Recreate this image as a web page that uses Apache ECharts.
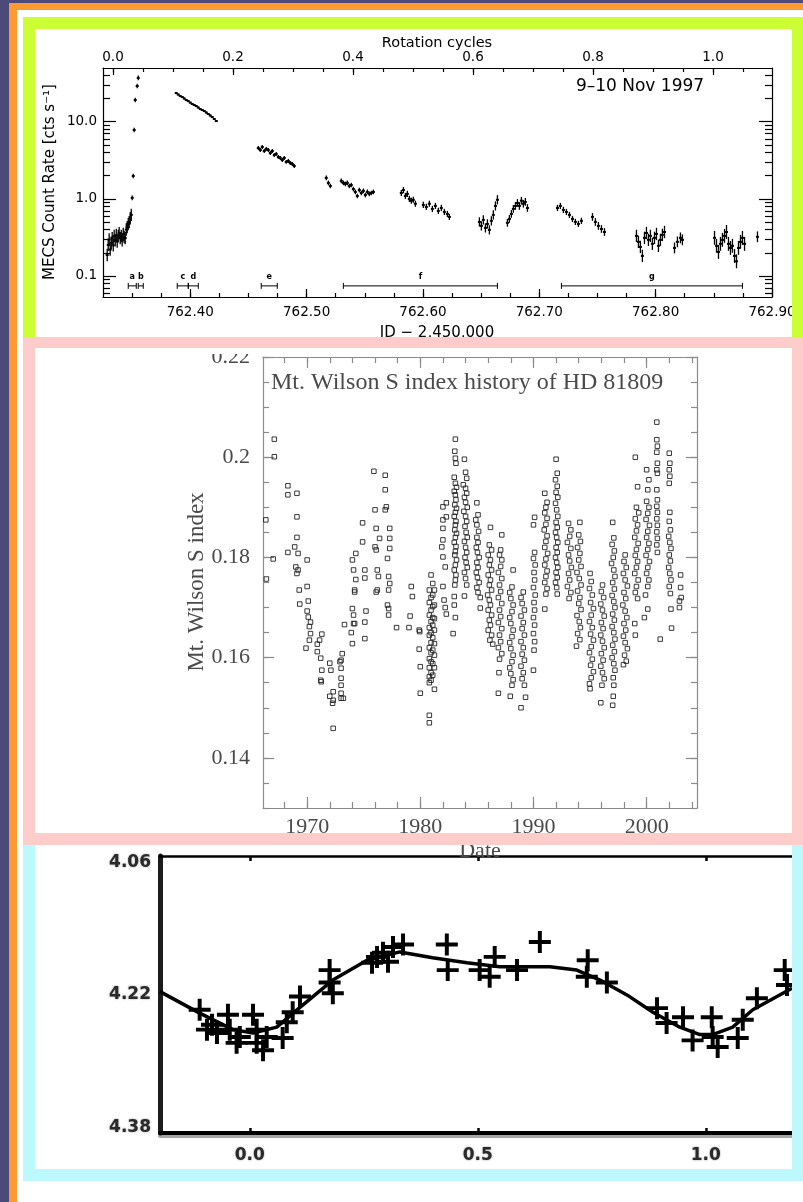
<!DOCTYPE html>
<html><head><meta charset="utf-8">
<script src="https://cdn.jsdelivr.net/npm/echarts@6/dist/echarts.min.js"></script>
<style>html,body{margin:0;padding:0;background:#fff}#c{width:803px;height:1202px}</style>
</head><body><div id="c"></div>
<script>
// ================= Panel 1 : MECS light curve (9-10 Nov 1997) =================
const jdTicks = [762.40, 762.50, 762.60, 762.70, 762.80, 762.90];
const cycleTicks = [0.0, 0.2, 0.4, 0.6, 0.8, 1.0];
const rateTicks = [0.1, 1.0, 10.0];
// [JD-2450000, count rate]
const seg01 = [[762.3286,0.187],[762.3295,0.253],[762.3303,0.297],[762.3312,0.22],[762.3321,0.27],[762.3329,0.31],[762.3338,0.25],[762.3346,0.33],[762.3355,0.29],[762.3364,0.34],[762.3372,0.28],[762.3381,0.33],[762.3389,0.36],[762.3398,0.31],[762.3407,0.33],[762.3415,0.29],[762.3424,0.35],[762.3432,0.32],[762.3441,0.31],[762.3450,0.40],[762.3458,0.43],[762.3467,0.47],[762.3475,0.50],[762.3484,0.56],[762.3493,0.62]];
const seg02 = [[762.3501,1.03],[762.3510,1.98],[762.3518,7.8],[762.3527,19.1],[762.3544,29],[762.3553,37]];
const seg03 = [[762.38796,23.5],[762.38968,22.5],[762.3914,21.5],[762.39312,20.9],[762.39484,20.0],[762.39656,19.1],[762.39828,18.5],[762.4,17.7],[762.40172,16.96],[762.40344,16.45],[762.40516,15.97],[762.40688,15.27],[762.4086,14.6],[762.41032,14.18],[762.41204,13.76],[762.41376,13.16],[762.41548,12.58],[762.4172,12.03],[762.41892,11.5],[762.42064,10.84],[762.42236,10.2]];
const seg04 = [[762.4585,4.56],[762.4602,4.30],[762.4619,4.70],[762.4636,4.17],[762.4653,4.43],[762.4671,4.30],[762.4688,3.93],[762.4705,4.17],[762.4722,3.70],[762.4739,3.82],[762.4757,3.49],[762.4774,3.39],[762.4791,3.19],[762.4808,3.39],[762.4825,3.01],[762.4843,3.10],[762.4860,2.92],[762.4877,2.83],[762.4894,2.67]];
const seg05 = [[762.5169,1.87],[762.5187,1.61],[762.5204,1.47]];
const seg06 = [[762.5298,1.71],[762.5316,1.61],[762.5333,1.56],[762.5350,1.61],[762.5367,1.47],[762.5384,1.51],[762.5402,1.34],[762.5419,1.23],[762.5436,1.09],[762.5453,1.30],[762.5470,1.19],[762.5488,1.27],[762.5505,1.12],[762.5522,1.23],[762.5539,1.16],[762.5556,1.19],[762.5574,1.23]];
const seg07 = [[762.5814,1.19],[762.5832,1.30],[762.5849,1.09],[762.5866,1.16],[762.5883,1.00],[762.5900,0.945],[762.5917,0.973],[762.5935,0.864]];
const seg08 = [[762.6003,0.834],[762.6029,0.785],[762.6055,0.864],[762.6081,0.740],[762.6107,0.809],[762.6132,0.697],[762.6158,0.762],[762.6184,0.676],[762.6210,0.637],[762.6227,0.583]];
const seg09 = [[762.6485,0.502],[762.6502,0.446],[762.6519,0.533],[762.6537,0.420],[762.6554,0.473],[762.6571,0.396],[762.6588,0.518],[762.6605,0.619],[762.6623,0.809],[762.6640,0.973]];
const seg10 = [[762.6726,0.488],[762.6743,0.549],[762.6760,0.637],[762.6777,0.740],[762.6795,0.809],[762.6812,0.885],[762.6829,0.809],[762.6846,0.945],[762.6863,0.864],[762.6880,0.911],[762.6898,0.762]];
const seg11 = [[762.7156,0.762],[762.7181,0.809],[762.7207,0.718],[762.7233,0.676],[762.7259,0.619],[762.7285,0.549],[762.7310,0.502],[762.7336,0.473],[762.7362,0.518]];
const seg12 = [[762.7457,0.583],[762.7482,0.502],[762.7508,0.446],[762.7534,0.407],[762.7560,0.372]];
const seg13 = [[762.7835,0.331],[762.7852,0.277],[762.7869,0.238],[762.7886,0.182],[762.7904,0.312],[762.7921,0.361],[762.7938,0.294],[762.7955,0.331],[762.7972,0.261],[762.7990,0.312],[762.8007,0.351],[762.8024,0.246],[762.8041,0.294],[762.8058,0.341],[762.8076,0.372]];
const seg14 = [[762.8162,0.231],[762.8187,0.277],[762.8213,0.312],[762.8230,0.294]];
const seg15 = [[762.8506,0.312],[762.8523,0.246],[762.8540,0.205],[762.8557,0.261],[762.8574,0.294],[762.8592,0.331],[762.8609,0.372],[762.8626,0.261],[762.8643,0.231],[762.8660,0.246],[762.8678,0.182],[762.8695,0.155],[762.8712,0.231],[762.8729,0.277],[762.8746,0.312],[762.8764,0.261]];
const seg16 = [[762.8875,0.322]];
const segments = [seg01,seg02,seg03,seg04,seg05,seg06,seg07,seg08,seg09,seg10,seg11,seg12,seg13,seg14,seg15,seg16];
// error bar half-length per segment, in dex
const segErr = [0.08,0.03,0.012,0.025,0.03,0.03,0.04,0.04,0.06,0.05,0.04,0.05,0.08,0.07,0.09,0.07];
const intervalNames = ['a','b','c','d','e','f','g'];
const intervalStart = [762.3467,762.3553,762.3888,762.3983,762.4610,762.5316,762.7190];
const intervalEnd   = [762.3536,762.3596,762.3983,762.4069,762.4748,762.6640,762.8746];

// ================= Panel 2 : Mt. Wilson S index history =================
const yearTicks = [1970, 1980, 1990, 2000];
const sTicks = [0.14, 0.16, 0.18, 0.2, 0.22];
const obs1966_1979 = [[1966.35,0.1875],[1966.4,0.1757],[1967.1,0.2036],[1967.1,0.2001],[1967.0,0.1797],
[1968.3,0.1943],[1968.3,0.1925],[1968.3,0.181],[1968.9,0.1821],
[1969.1,0.1928],[1969.1,0.1881],[1969.1,0.184],[1969.2,0.1808],[1969.0,0.1781],[1969.2,0.1775],[1969.1,0.1768],[1969.3,0.1735],[1969.35,0.1707],
[1970.0,0.1795],[1970.0,0.1742],[1970.1,0.1713],[1970.0,0.1693],[1970.1,0.1681],[1970.3,0.1671],[1970.2,0.1662],[1970.3,0.1648],[1969.9,0.1619],[1970.2,0.1635],
[1970.9,0.1627],[1971.1,0.1635],[1971.3,0.1647],[1970.9,0.1612],[1971.2,0.1599],[1971.3,0.1575],[1971.2,0.1555],[1971.25,0.1552],
[1972.0,0.1589],[1972.1,0.1575],[1972.0,0.1523],[1972.3,0.1532],[1972.3,0.1515],[1972.25,0.1509],[1972.3,0.1459],
[1972.9,0.1592],[1973.1,0.1608],[1973.0,0.1595],[1973.0,0.1579],[1973.0,0.1559],[1973.0,0.1545],[1973.0,0.1529],[1973.0,0.1519],[1973.2,0.1519],[1973.3,0.1666],
[1973.9,0.165],[1974.0,0.1628],[1974.1,0.1668],[1974.2,0.1668],[1974.1,0.1685],[1974.0,0.1698],[1974.2,0.1731],[1974.0,0.1795],[1974.3,0.1808],[1974.1,0.1775],[1974.3,0.1756],[1974.2,0.1735],
[1974.9,0.1869],[1974.9,0.1831],[1975.1,0.1775],[1975.1,0.1759],[1975.1,0.1671],[1975.1,0.1638],[1975.2,0.1693],
[1975.9,0.1972],[1976.0,0.1895],[1976.1,0.1858],[1976.4,0.1838],[1976.0,0.1821],[1976.1,0.1815],[1976.2,0.1775],[1976.3,0.1762],[1976.2,0.1735],[1976.1,0.1731],
[1976.9,0.1964],[1976.9,0.1935],[1977.0,0.1901],[1976.9,0.1895],[1977.3,0.1858],[1977.3,0.1838],[1977.3,0.1818],[1977.1,0.1798],[1977.2,0.1762],[1977.3,0.1748],[1977.2,0.1735],[1977.1,0.1705],[1977.2,0.1685],[1977.2,0.1698],
[1977.9,0.166],[1979.0,0.166],[1979.1,0.1683],[1979.3,0.1722],[1979.2,0.1742]];
const obs1980_1989 = [[1979.9,0.1655],[1979.9,0.1617],[1980.0,0.1582],[1980.0,0.1529],[1979.95,0.1652],
[1980.8,0.1735],[1980.8,0.171],[1980.8,0.1685],[1980.8,0.166],[1980.8,0.1645],[1980.8,0.162],[1980.8,0.1598],[1980.8,0.158],[1980.8,0.1562],[1980.8,0.155],[1980.8,0.1485],[1980.8,0.147],
[1980.95,0.1765],[1980.95,0.172],[1980.95,0.1695],[1980.95,0.1672],[1980.95,0.165],[1980.95,0.163],[1980.95,0.161],[1980.95,0.1592],[1980.95,0.157],[1980.95,0.1555],
[1981.1,0.1748],[1981.1,0.1725],[1981.1,0.1702],[1981.1,0.168],[1981.1,0.1665],[1981.1,0.164],[1981.1,0.1615],[1981.1,0.1588],[1981.1,0.1565],
[1981.25,0.1735],[1981.25,0.1705],[1981.25,0.1678],[1981.25,0.1655],[1981.25,0.1628],[1981.25,0.1605],[1981.25,0.158],[1981.25,0.1537],
[1982.0,0.1742],[1982.0,0.1901],[1982.3,0.1909],[1982.0,0.1875],[1982.3,0.1881],[1982.0,0.1858],[1982.0,0.1835],[1981.9,0.1821],[1982.0,0.1801],[1982.2,0.1781],[1982.3,0.1687],[1982.2,0.1700],[1982.1,0.1715],
[1983.1,0.2036],[1983.05,0.2012],[1983.1,0.1998],[1983.15,0.1988],[1983.0,0.196],[1983.1,0.1948],[1983.2,0.194],[1983.0,0.1932],[1983.1,0.1925],[1983.15,0.1915],[1983.05,0.1905],[1983.2,0.1898],[1983.1,0.189],[1983.0,0.1882],[1983.15,0.1872],[1983.1,0.1865],[1983.05,0.1855],[1983.2,0.1848],[1983.1,0.184],[1983.0,0.183],[1983.15,0.1822],[1983.1,0.1812],[1983.05,0.1805],[1983.2,0.1795],[1983.1,0.1785],[1983.0,0.1775],[1983.15,0.1765],[1983.1,0.1755],[1983.05,0.1745],[1983.0,0.1722],[1983.0,0.1705],[1983.1,0.168],[1982.9,0.1648],
[1983.9,0.1996],[1984.0,0.197],[1984.1,0.1958],[1983.8,0.1945],[1984.0,0.1938],[1984.1,0.1928],[1983.9,0.192],[1984.0,0.191],[1984.15,0.19],[1983.85,0.1892],[1984.0,0.1882],[1984.1,0.1872],[1983.95,0.1862],[1984.05,0.185],[1984.15,0.184],[1983.9,0.1832],[1984.0,0.182],[1984.1,0.181],[1983.95,0.18],[1984.05,0.179],[1984.15,0.178],[1983.9,0.177],[1984.0,0.1758],[1984.1,0.1745],[1983.9,0.1723],
[1985.0,0.1909],[1985.1,0.1885],[1984.9,0.1875],[1985.0,0.1865],[1985.15,0.1852],[1985.0,0.184],[1985.1,0.183],[1984.95,0.182],[1985.05,0.181],[1985.2,0.18],[1985.0,0.179],[1985.1,0.178],[1984.95,0.177],[1985.05,0.176],[1985.2,0.175],[1985.0,0.174],[1985.1,0.173],[1985.3,0.172],[1985.3,0.1699],
[1986.2,0.186],[1986.1,0.1825],[1986.3,0.1815],[1986.0,0.1805],[1986.2,0.1795],[1986.1,0.1785],[1986.3,0.1775],[1986.0,0.1765],[1986.2,0.1755],[1986.1,0.1745],[1986.3,0.1735],[1985.95,0.1725],[1986.1,0.1715],[1986.2,0.1705],[1986.0,0.1695],[1986.3,0.1685],[1986.1,0.1675],[1986.2,0.1665],[1986.0,0.1655],[1986.3,0.1645],[1986.15,0.1635],[1986.4,0.1627],
[1987.2,0.1845],[1987.1,0.1815],[1987.0,0.1805],[1987.2,0.1795],[1987.1,0.1782],[1986.9,0.177],[1987.2,0.1758],[1987.0,0.1745],[1987.1,0.1732],[1986.9,0.172],[1987.2,0.1708],[1987.0,0.1695],[1987.1,0.1682],[1986.9,0.167],[1987.2,0.1658],[1987.0,0.1645],[1987.1,0.1632],[1986.9,0.162],[1987.2,0.1608],[1987.0,0.1597],[1986.95,0.157],[1986.9,0.1529],
[1988.2,0.1775],[1988.1,0.1741],[1987.9,0.173],[1988.0,0.1718],[1988.2,0.1705],[1988.1,0.1692],[1987.9,0.168],[1988.0,0.1668],[1988.2,0.1655],[1988.1,0.1642],[1987.9,0.163],[1988.0,0.1618],[1988.2,0.1605],[1988.1,0.1592],[1987.9,0.158],[1988.0,0.1568],[1988.2,0.1556],[1988.1,0.1545],[1987.95,0.1523],
[1989.1,0.1731],[1988.9,0.172],[1989.0,0.1708],[1989.2,0.1695],[1988.9,0.1683],[1989.1,0.167],[1989.0,0.1658],[1989.2,0.1645],[1988.9,0.1632],[1989.1,0.162],[1989.0,0.1607],[1989.2,0.1595],[1988.9,0.1583],[1989.1,0.157],[1989.0,0.1558],[1989.2,0.1545],[1989.3,0.1521],[1988.9,0.150]];
const obs1990_2003 = [[1990.1,0.188],[1990.0,0.1865],[1990.1,0.181],[1990.0,0.1798],[1990.15,0.1785],[1990.05,0.177],[1990.1,0.1755],[1990.0,0.174],[1990.15,0.1725],[1990.05,0.171],[1990.1,0.1695],[1990.0,0.168],[1990.1,0.1665],[1990.0,0.1648],[1990.1,0.1632],[1990.05,0.1615],[1990.0,0.1575],
[1991.0,0.1928],[1991.2,0.191],[1991.1,0.19],[1991.0,0.1889],[1991.2,0.1878],[1991.1,0.1866],[1990.95,0.1855],[1991.2,0.1843],[1991.1,0.1832],[1991.0,0.182],[1991.25,0.1808],[1991.1,0.1797],[1991.0,0.1785],[1991.2,0.1773],[1991.1,0.1762],[1991.0,0.175],[1991.2,0.1738],[1991.1,0.1727],[1991.0,0.1697],
[1992.0,0.1996],[1992.1,0.1968],[1991.95,0.1955],[1992.1,0.1942],[1992.0,0.193],[1992.15,0.192],[1991.95,0.1908],[1992.05,0.1895],[1992.15,0.1882],[1992.0,0.187],[1992.1,0.186],[1991.95,0.185],[1992.05,0.184],[1992.15,0.183],[1992.0,0.182],[1992.1,0.181],[1991.95,0.18],[1992.05,0.179],[1992.15,0.178],[1992.0,0.177],[1992.1,0.176],[1991.95,0.175],[1992.05,0.174],[1992.1,0.1727],
[1993.1,0.1868],[1993.3,0.1855],[1993.2,0.1842],[1993.0,0.183],[1993.3,0.1818],[1993.1,0.1805],[1993.2,0.1793],[1993.35,0.178],[1993.1,0.1768],[1993.2,0.1755],[1993.0,0.1742],[1993.3,0.173],[1993.15,0.1718],
[1994.1,0.187],[1994.0,0.1845],[1994.15,0.1832],[1993.9,0.182],[1994.1,0.1808],[1994.0,0.1795],[1994.2,0.1782],[1993.85,0.177],[1994.05,0.1758],[1994.2,0.1745],[1993.9,0.1733],[1994.1,0.172],[1994.0,0.1708],[1994.2,0.1696],[1993.85,0.1684],[1994.05,0.1672],[1994.15,0.166],[1993.9,0.1648],[1994.1,0.1636],[1993.8,0.1623],
[1995.0,0.1768],[1995.1,0.1752],[1994.95,0.1738],[1995.2,0.1725],[1995.05,0.171],[1995.3,0.1698],[1995.1,0.1685],[1994.95,0.1672],[1995.2,0.166],[1995.05,0.1647],[1995.3,0.1635],[1995.1,0.1622],[1994.95,0.161],[1995.2,0.1597],[1995.05,0.1585],[1995.3,0.1572],[1995.1,0.156],[1994.95,0.1548],[1995.0,0.1538],
[1996.1,0.1745],[1996.0,0.1732],[1996.2,0.172],[1995.95,0.1707],[1996.1,0.1695],[1996.25,0.1683],[1996.0,0.167],[1996.15,0.1658],[1995.95,0.1645],[1996.1,0.1633],[1996.25,0.162],[1996.0,0.1608],[1996.15,0.1595],[1995.95,0.1583],[1996.1,0.157],[1996.25,0.1558],[1996.05,0.1545],[1995.95,0.151],
[1997.0,0.187],[1997.1,0.1839],[1996.95,0.1826],[1997.15,0.1813],[1997.05,0.18],[1996.9,0.1788],[1997.1,0.1775],[1997.2,0.1762],[1997.0,0.175],[1997.15,0.1737],[1996.95,0.1724],[1997.1,0.1712],[1997.2,0.17],[1997.0,0.1687],[1997.15,0.1675],[1996.95,0.1662],[1997.1,0.165],[1997.2,0.1637],[1997.0,0.1625],[1997.15,0.1612],[1996.95,0.16],[1997.1,0.1588],[1997.2,0.1575],[1997.05,0.156],[1997.1,0.1545],[1997.05,0.1523],[1997.0,0.1505],
[1998.1,0.1805],[1998.0,0.1792],[1998.2,0.178],[1997.95,0.1768],[1998.1,0.1755],[1998.3,0.1743],[1998.0,0.173],[1998.15,0.1718],[1997.9,0.1705],[1998.1,0.1693],[1998.25,0.168],[1998.0,0.1668],[1998.15,0.1655],[1997.95,0.1643],[1998.1,0.163],[1998.3,0.1618],[1998.05,0.1605],[1998.2,0.1593],[1997.95,0.1586],
[1999.0,0.2],[1999.2,0.1941],[1999.1,0.19],[1999.3,0.1889],[1999.0,0.1877],[1999.2,0.1865],[1999.1,0.1853],[1998.95,0.184],[1999.25,0.1828],[1999.1,0.1816],[1999.0,0.1804],[1999.2,0.1792],[1999.1,0.178],[1998.95,0.1768],[1999.25,0.1755],[1999.1,0.1742],[1999.0,0.173],[1999.2,0.1718],[1998.95,0.1668],[1999.0,0.1645],
[2000.0,0.1975],[2000.2,0.1955],[2000.1,0.1935],[2000.0,0.1912],[2000.2,0.19],[2000.1,0.1888],[1999.95,0.1876],[2000.25,0.1864],[2000.1,0.1852],[2000.0,0.184],[2000.2,0.1828],[2000.1,0.1816],[1999.95,0.1804],[2000.25,0.1792],[2000.1,0.178],[2000.0,0.1768],[2000.2,0.1755],[2000.1,0.1742],[1999.9,0.1725],[2000.1,0.1697],[1999.8,0.168],
[2000.9,0.207],[2000.9,0.2035],[2000.95,0.2022],[2000.9,0.201],[2000.95,0.1988],[2000.9,0.1975],[2000.95,0.1968],[2000.9,0.1935],[2000.95,0.1915],[2000.9,0.1902],[2000.95,0.189],[2000.9,0.1877],[2000.95,0.1864],[2000.9,0.1851],[2000.95,0.1838],[2000.9,0.1825],[2000.95,0.181],[2001.2,0.1637],
[2002.0,0.2008],[2002.05,0.1988],[2002.0,0.1975],[2002.05,0.1962],[2002.0,0.1948],[2002.05,0.189],[2002.0,0.1872],[2002.1,0.1855],[2001.95,0.1842],[2002.05,0.183],[2002.15,0.1818],[2002.0,0.1805],[2002.1,0.1793],[2001.95,0.178],[2002.05,0.1768],[2002.15,0.1755],[2002.0,0.1742],[2002.1,0.1728],[2002.15,0.1697],[2002.2,0.1659],
[2003.0,0.1765],[2003.0,0.174],[2003.05,0.172],[2002.9,0.170],[2002.9,0.1713]];

// ================= Panel 3 : phased photometry =================
const phaseTicks = [0.0, 0.5, 1.0];
const magTicks = [4.06, 4.22, 4.38];
const modelPhase = [-0.197,-0.110,-0.037,0.007,0.059,0.110,0.182,0.257,0.329,0.401,0.476,0.548,0.658,0.717,0.768,0.827,0.884,0.943,0.987,1.015,1.059,1.103,1.189];
const modelMag   = [4.216,4.242,4.262,4.266,4.259,4.235,4.202,4.178,4.168,4.175,4.181,4.186,4.186,4.190,4.202,4.220,4.241,4.259,4.268,4.268,4.259,4.238,4.212];
const obsPhase = [-0.110,-0.083,-0.094,-0.072,-0.048,-0.044,-0.029,-0.022,0.007,0.015,0.015,0.029,0.037,0.072,0.081,0.094,0.110,0.175,0.175,0.182,0.268,0.279,0.292,0.303,0.314,0.336,0.432,0.434,0.504,0.526,0.537,0.586,0.636,0.741,0.739,0.783,0.893,0.914,0.950,0.971,1.013,1.015,1.026,1.070,1.081,1.112,1.173,1.178];
const obsMag   = [4.238,4.256,4.262,4.266,4.244,4.262,4.278,4.271,4.244,4.262,4.278,4.287,4.271,4.272,4.253,4.241,4.222,4.190,4.205,4.218,4.181,4.174,4.169,4.180,4.162,4.159,4.159,4.190,4.190,4.198,4.174,4.190,4.156,4.178,4.198,4.205,4.236,4.254,4.247,4.275,4.247,4.271,4.283,4.272,4.250,4.224,4.190,4.208];

// ---------------- build ----------------
const LOG = Math.log10;
const JDMIN = 762.325, JDMAX = 762.90, CYMIN = -0.0167, CYMAX = 1.0983;
const Y0MIN = LOG(0.0534), Y0MAX = LOG(49.7);
const YRMIN = 1966.1, YRMAX = 2004.45, SMIN = 0.13, SMAX = 0.22;
const PHMIN = -0.197, PHMAX = 1.189, MGMIN = 4.052, MGMAX = 4.387;

function steps(a, b, s) { const o = []; const n = Math.round((b - a) / s); for (let i = 0; i <= n; i++) o.push(+(a + i * s).toFixed(6)); return o; }
const jdMinor = steps(762.35, 762.875, 0.025);
const cycleMinor = steps(0, 1.05, 0.05);
const rateMajorLog = rateTicks.map(LOG);
const rateMinorLog = [];
[0.01, 0.1, 1, 10].forEach(d => { for (let k = 2; k <= 9; k++) { const v = k * d; if (v >= 0.0534 && v <= 49.7) rateMinorLog.push(LOG(v)); } });
const yearMinor = steps(1968, 2004, 2);
const sMinor = steps(0.13, 0.22, 0.005);

const K = {color: '#000', width: 1.2};
const G = {color: '#8a8a8a', width: 1.2};
const f1 = {fontFamily: 'DejaVu Sans', fontSize: 13.5, color: '#000'};
const f2 = {fontFamily: 'Liberation Serif', fontSize: 22, color: '#4a4a4a'};
const f3 = {fontFamily: 'DejaVu Sans', fontSize: 17, fontWeight: 'bold', color: '#2a2a2a', textShadowColor: 'rgba(0,0,0,0.45)', textShadowBlur: 2};

function ax(o) {
  return Object.assign({type: 'value', splitLine: {show: false}, axisLine: {show: false, onZero: false},
    axisTick: {show: false}, axisLabel: {show: false}, axisPointer: {show: false}}, o);
}
const ln = s => ({show: true, onZero: false, lineStyle: s});
const tk = (v, len, s) => ({show: true, inside: true, length: len, customValues: v, lineStyle: s});
const lb = (v, fmt, m, f) => Object.assign({show: true, customValues: v, formatter: fmt, margin: m}, f);

const xAxis = [
  ax({gridIndex: 0, position: 'bottom', min: JDMIN, max: JDMAX, axisLine: ln(K), axisTick: tk(jdTicks, 8, K), axisLabel: lb(jdTicks, v => v.toFixed(2), 8, f1)}),
  ax({gridIndex: 0, position: 'bottom', min: JDMIN, max: JDMAX, axisTick: tk(jdMinor, 4, K)}),
  ax({gridIndex: 0, position: 'top', min: CYMIN, max: CYMAX, axisLine: ln(K), axisTick: tk(cycleTicks, 7, K), axisLabel: lb(cycleTicks, v => v.toFixed(1), 4, f1)}),
  ax({gridIndex: 0, position: 'top', min: CYMIN, max: CYMAX, axisTick: tk(cycleMinor, 4, K)}),
  ax({gridIndex: 1, position: 'bottom', min: YRMIN, max: YRMAX, axisLine: ln(G), axisTick: tk(yearTicks, 11, G), axisLabel: lb(yearTicks, v => String(v), 8, f2)}),
  ax({gridIndex: 1, position: 'bottom', min: YRMIN, max: YRMAX, axisTick: tk(yearMinor, 6, G)}),
  ax({gridIndex: 1, position: 'top', min: YRMIN, max: YRMAX, axisLine: ln(G), axisTick: tk(yearTicks, 11, G)}),
  ax({gridIndex: 1, position: 'top', min: YRMIN, max: YRMAX, axisTick: tk(yearMinor, 6, G)}),
  ax({gridIndex: 2, position: 'bottom', min: PHMIN, max: PHMAX,
      axisLine: {show: true, onZero: false, lineStyle: {color: '#000', width: 4, shadowColor: 'rgba(0,0,0,0.35)', shadowOffsetY: 3}},
      axisTick: tk(phaseTicks, 5, {color: '#000', width: 2.5}), axisLabel: lb(phaseTicks, v => v.toFixed(1), 14, f3)}),
  ax({gridIndex: 2, position: 'top', min: PHMIN, max: PHMAX, axisLine: ln({color: '#000', width: 2.5}), axisTick: tk(phaseTicks, 5, {color: '#000', width: 2.5})})
];
const yAxis = [
  ax({gridIndex: 0, position: 'left', min: Y0MIN, max: Y0MAX, axisLine: ln(K), axisTick: tk(rateMajorLog, 13, K), axisLabel: lb(rateMajorLog, v => Math.pow(10, v).toFixed(1), 6, f1)}),
  ax({gridIndex: 0, position: 'left', min: Y0MIN, max: Y0MAX, axisTick: tk(rateMinorLog, 7, K)}),
  ax({gridIndex: 0, position: 'right', min: Y0MIN, max: Y0MAX, axisLine: ln(K), axisTick: tk(rateMajorLog, 13, K)}),
  ax({gridIndex: 0, position: 'right', min: Y0MIN, max: Y0MAX, axisTick: tk(rateMinorLog, 7, K)}),
  ax({gridIndex: 1, position: 'left', min: SMIN, max: SMAX, axisLine: ln(G), axisTick: tk(sTicks, 11, G), axisLabel: lb(sTicks, v => String(v), 13, f2)}),
  ax({gridIndex: 1, position: 'left', min: SMIN, max: SMAX, axisTick: tk(sMinor, 6, G)}),
  ax({gridIndex: 1, position: 'right', min: SMIN, max: SMAX, axisLine: ln(G), axisTick: tk(sTicks, 11, G)}),
  ax({gridIndex: 1, position: 'right', min: SMIN, max: SMAX, axisTick: tk(sMinor, 6, G)}),
  ax({gridIndex: 2, position: 'left', min: MGMIN, max: MGMAX, inverse: true,
      axisLine: ln({color: '#1c1c1c', width: 5}), axisLabel: lb(magTicks, v => v.toFixed(2), 9, f3)})
];

// light-curve points with error bars
const lcData = [];
segments.forEach((seg, i) => seg.forEach(p => lcData.push([p[0], LOG(p[1]), segErr[i]])));
function renderErr(params, api) {
  const x = api.value(0), y = api.value(1), e = api.value(2);
  const a = api.coord([x, y - e]), b = api.coord([x, y + e]), c = api.coord([x, y]);
  return {type: 'group', children: [
    {type: 'line', shape: {x1: a[0], y1: a[1], x2: b[0], y2: b[1]}, style: {stroke: '#000', lineWidth: 1.3}},
    {type: 'line', shape: {x1: c[0] - 1.5, y1: c[1], x2: c[0] + 1.5, y2: c[1]}, style: {stroke: '#000', lineWidth: 2}}
  ]};
}
const BAR_Y = LOG(0.0744);
const ivData = intervalNames.map((n, i) => [intervalStart[i], intervalEnd[i], n]);
function renderIv(params, api) {
  const s = api.coord([api.value(0), BAR_Y]), e = api.coord([api.value(1), BAR_Y]);
  const name = ivData[params.dataIndex][2];
  const st = {stroke: '#000', lineWidth: 1};
  return {type: 'group', children: [
    {type: 'line', shape: {x1: s[0], y1: s[1], x2: e[0], y2: e[1]}, style: st},
    {type: 'line', shape: {x1: s[0], y1: s[1] - 3, x2: s[0], y2: s[1] + 3}, style: st},
    {type: 'line', shape: {x1: e[0], y1: e[1] - 3, x2: e[0], y2: e[1] + 3}, style: st},
    {type: 'text', x: (s[0] + e[0]) / 2, y: s[1] - 9, style: {text: name, fontSize: 8, fontFamily: 'DejaVu Sans', fontWeight: 'bold', fill: '#000', align: 'center', verticalAlign: 'middle'}}
  ]};
}

const wilson = obs1966_1979.concat(obs1980_1989, obs1990_2003);
const model = modelPhase.map((p, i) => [p, modelMag[i]]);
const obs = obsPhase.map((p, i) => [p, obsMag[i]]);
const CROSS = 'path://M-1.8,-10H1.8V10H-1.8Z M-10,-1.8H10V1.8H-10Z';

// frames
function band(x, y, w, h, c) { return {type: 'rect', z: 100, silent: true, shape: {x, y, width: w, height: h}, style: {fill: c}}; }
const DARK = '#4b4a78', ORANGE = '#ff9a33', LIME = '#ccff33', PINK = '#ffcccc', CYAN = '#bdf8fc';
function txt(x, y, text, st, extra) {
  return Object.assign({type: 'text', z: 50, silent: true, x, y, style: Object.assign({text, align: 'center', verticalAlign: 'middle'}, st)}, extra || {});
}
const graphic = [
  txt(437, 43, 'Rotation cycles', {fontFamily: 'DejaVu Sans', fontSize: 14.5, fill: '#000'}),
  txt(640, 87, '9\u201310 Nov 1997', {fontFamily: 'DejaVu Sans', fontSize: 17, fill: '#000'}),
  txt(50, 182, 'MECS Count Rate [cts s\u207B\u00B9]', {fontFamily: 'DejaVu Sans', fontSize: 15, fill: '#000'}, {rotation: Math.PI / 2}),
  txt(437, 333, 'JD \u2212 2,450,000', {fontFamily: 'DejaVu Sans', fontSize: 15, fill: '#000'}),
  txt(271, 383, 'Mt. Wilson S index history of HD 81809', {fontFamily: 'Liberation Serif', fontSize: 24, fill: '#4a4a4a', align: 'left'}),
  txt(197, 582, 'Mt. Wilson S index', {fontFamily: 'Liberation Serif', fontSize: 23, fill: '#4a4a4a'}, {rotation: Math.PI / 2}),
  txt(480, 851, 'Date', {fontFamily: 'Liberation Serif', fontSize: 22, fill: '#4a4a4a'}),
  {type: 'rect', z: 90, silent: true, shape: {x: 195, y: 346, width: 63, height: 8}, style: {fill: '#fff'}},
  band(0, 0, 9, 1202, DARK), band(0, 0, 803, 3, DARK),
  band(9, 3, 8, 1199, ORANGE), band(9, 3, 794, 7, ORANGE),
  band(23, 17, 780, 12, LIME), band(23, 17, 12, 322, LIME), band(792, 17, 11, 322, LIME),
  band(23, 845, 12, 336, CYAN), band(792, 845, 11, 336, CYAN), band(23, 1169, 780, 12, CYAN),
  band(23, 337, 780, 11, PINK), band(23, 337, 12, 508, PINK), band(792, 337, 11, 508, PINK), band(23, 833, 780, 12, PINK)
];

const chart = echarts.init(document.getElementById('c'), null, {renderer: 'canvas'});
chart.setOption({
  backgroundColor: '#fff',
  animation: false,
  grid: [
    {left: 103, top: 68, width: 669, height: 229, containLabel: false},
    {left: 263, top: 357, width: 434, height: 451, containLabel: false},
    {left: 160, top: 856, width: 632, height: 277, containLabel: false}
  ],
  xAxis, yAxis, graphic,
  series: [
    {type: 'custom', xAxisIndex: 0, yAxisIndex: 0, data: lcData, renderItem: renderErr, silent: true},
    {type: 'custom', xAxisIndex: 0, yAxisIndex: 0, data: ivData.map(d => [d[0], d[1]]), renderItem: renderIv, silent: true},
    {type: 'scatter', xAxisIndex: 4, yAxisIndex: 4, data: wilson, symbol: 'rect', symbolSize: 4.5, silent: true,
     itemStyle: {color: 'rgba(255,255,255,0)', borderColor: '#222', borderWidth: 0.9, opacity: 1}},
    {type: 'line', xAxisIndex: 8, yAxisIndex: 8, data: model, showSymbol: false, smooth: false, silent: true,
     lineStyle: {color: '#000', width: 3.5}},
    {type: 'scatter', xAxisIndex: 8, yAxisIndex: 8, data: obs, symbol: CROSS, symbolSize: 22, silent: true,
     itemStyle: {color: '#000', opacity: 1}}
  ]
});
</script>
</body></html>
